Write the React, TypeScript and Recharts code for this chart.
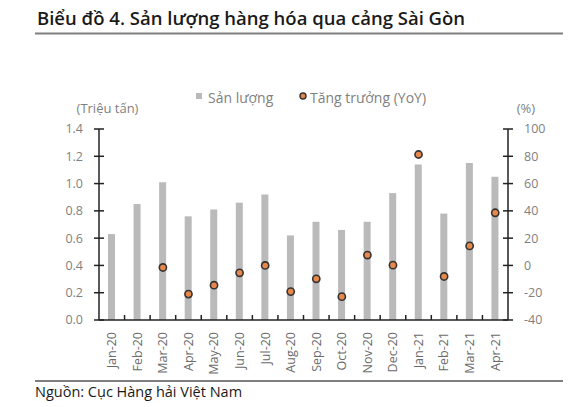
import React from 'react';
import { ComposedChart, Bar, Line, XAxis, YAxis } from 'recharts';

const months = ['Jan-20','Feb-20','Mar-20','Apr-20','May-20','Jun-20','Jul-20','Aug-20','Sep-20','Oct-20','Nov-20','Dec-20','Jan-21','Feb-21','Mar-21','Apr-21'];
const volume = [0.63,0.85,1.01,0.76,0.81,0.86,0.92,0.62,0.72,0.66,0.72,0.93,1.14,0.78,1.15,1.05];
const yoy: (number | null)[] = [null,null,-1.5,-21,-14.5,-5.4,0,-19.2,-9.8,-22.9,7.6,0.2,81.3,-8.1,14.3,38.6];
const leftTicks = [0,0.2,0.4,0.6,0.8,1.0,1.2,1.4];
const rightTicks = [-40,-20,0,20,40,60,80,100];

const data = months.map((m, i) => ({ month: m, volume: volume[i], yoy: yoy[i] }));

const W = 587;
const H = 407;
const MARGIN = { top: 129, right: 39, bottom: 27, left: 59 };
const YAXIS_W = 40;
const XAXIS_H = 60;
const PLOT_W = W - MARGIN.left - MARGIN.right - 2 * YAXIS_W;
const BAND = PLOT_W / months.length;

const FONT = '"Open Sans", "Noto Sans", sans-serif';
const TICK_COLOR = '#7f7f7f';
const AXIS_COLOR = '#222';
const TM = 16;

const LeftTick = (props: any) => {
  const { x, y, payload } = props;
  return (
    <g>
      <line x1={x + TM - 5} x2={x + TM + 5} y1={y} y2={y} stroke={AXIS_COLOR} strokeWidth={1.5} />
      <text x={x} y={y} dy="0.35em" textAnchor="end" fill={TICK_COLOR} fontSize={12.5} fontFamily={FONT}>
        {Number(payload.value).toFixed(1)}
      </text>
    </g>
  );
};

const RightTick = (props: any) => {
  const { x, y, payload } = props;
  return (
    <g>
      <line x1={x - TM - 5} x2={x - TM + 5} y1={y} y2={y} stroke={AXIS_COLOR} strokeWidth={1.5} />
      <text x={x} y={y} dy="0.35em" textAnchor="start" fill={TICK_COLOR} fontSize={12.5} fontFamily={FONT}>
        {payload.value}
      </text>
    </g>
  );
};

const XTick = (props: any) => {
  const { x, y, payload, index } = props;
  const axisY = y - 12;
  return (
    <g>
      {index < months.length - 1 && (
        <line x1={x + BAND / 2} x2={x + BAND / 2} y1={axisY} y2={axisY - 5} stroke={AXIS_COLOR} strokeWidth={1.5} />
      )}
      <text
        x={x}
        y={y}
        dy="0.35em"
        textAnchor="end"
        transform={`rotate(-90, ${x}, ${y})`}
        fill="#6b6b6b"
        fontSize={12.5}
        fontFamily={FONT}
      >
        {payload.value}
      </text>
    </g>
  );
};

export default function App() {
  return (
    <div style={{ position: 'absolute', left: 0, top: 0, width: W, height: H, background: '#fff' }}>
      <ComposedChart width={W} height={H} data={data} margin={MARGIN}>
        <XAxis
          dataKey="month"
          height={XAXIS_H}
          interval={0}
          tickLine={false}
          tickSize={0}
          tickMargin={12}
          axisLine={{ stroke: AXIS_COLOR, strokeWidth: 1.5 }}
          tick={<XTick />}
        />
        <YAxis
          yAxisId="left"
          orientation="left"
          width={YAXIS_W}
          domain={[0, 1.4]}
          ticks={leftTicks}
          interval={0}
          tickLine={false}
          tickSize={0}
          tickMargin={TM}
          axisLine={{ stroke: AXIS_COLOR, strokeWidth: 1.5 }}
          tick={<LeftTick />}
        />
        <YAxis
          yAxisId="right"
          orientation="right"
          width={YAXIS_W}
          domain={[-40, 100]}
          ticks={rightTicks}
          interval={0}
          tickLine={false}
          tickSize={0}
          tickMargin={TM}
          axisLine={{ stroke: AXIS_COLOR, strokeWidth: 1.5 }}
          tick={<RightTick />}
        />
        <Bar yAxisId="left" dataKey="volume" fill="#bababa" barSize={7} isAnimationActive={false} />
        <Line
          yAxisId="right"
          dataKey="yoy"
          stroke="none"
          strokeWidth={0}
          dot={{ r: 3.6, fill: '#e8874a', stroke: '#333', strokeWidth: 1.6 }}
          activeDot={false}
          isAnimationActive={false}
        />
      </ComposedChart>
      <svg
        width={W}
        height={H}
        style={{ position: 'absolute', left: 0, top: 0, pointerEvents: 'none' }}
      >
        <text x={37} y={25} fontFamily={FONT} fontWeight={600} fontSize={18.5} fill="#1a1a1a">
          Biểu đồ 4. Sản lượng hàng hóa qua cảng Sài Gòn
        </text>
        <line x1={35} x2={563} y1={33.5} y2={33.5} stroke="#7f7f7f" strokeWidth={2} />
        <rect x={196} y={93} width={6} height={6} fill="#bababa" />
        <text x={208} y={103} fontFamily={FONT} fontSize={14} fill={TICK_COLOR}>Sản lượng</text>
        <circle cx={303} cy={96} r={3} fill="#e8874a" stroke="#333" strokeWidth={1.4} />
        <text x={310} y={103} fontFamily={FONT} fontSize={14} fill={TICK_COLOR}>Tăng trưởng (YoY)</text>
        <text x={107.5} y={113} textAnchor="middle" fontFamily={FONT} fontSize={13} fill={TICK_COLOR}>(Triệu tấn)</text>
        <text x={526} y={113} textAnchor="middle" fontFamily={FONT} fontSize={13} fill={TICK_COLOR}>(%)</text>
        <line x1={35} x2={563} y1={381} y2={381} stroke="#7f7f7f" strokeWidth={2} />
        <text x={35} y={397} fontFamily={FONT} fontSize={14.5} fill="#1a1a1a">Nguồn: Cục Hàng hải Việt Nam</text>
      </svg>
    </div>
  );
}
